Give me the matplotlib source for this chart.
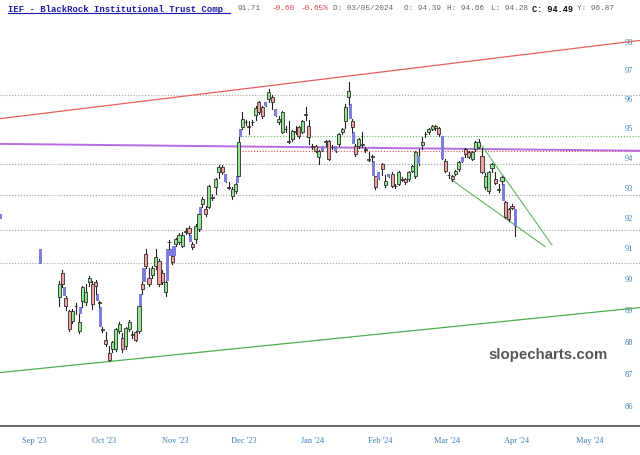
import numpy as np
import pandas as pd
import matplotlib
matplotlib.use("Agg")
import matplotlib.pyplot as plt
from matplotlib.patches import Rectangle
from matplotlib.lines import Line2D
from matplotlib.ticker import NullLocator

# ---------------- data ----------------
holidays = ["2023-09-04", "2023-11-23", "2023-12-25", "2024-01-01", "2024-01-15",
            "2024-02-19", "2024-03-29", "2024-05-27"]
first_day = "2023-09-27"
last_day = "2024-04-15"

open_ = [89.38, 90.15, 89.35, 88.93, 88.62, 89.11, 88.30, 89.25, 89.22, 89.86,
         89.80, 89.86, 89.23, 88.37, 88.04, 87.63, 87.73, 87.73, 88.30, 88.10,
         87.83, 88.36, 88.21, 88.27, 88.30, 89.80, 90.77, 90.02, 90.09, 90.38,
         90.55, 90.18, 89.55, 91.18, 90.73, 91.10, 91.16, 91.03, 91.53, 91.65,
         91.10, 91.26, 91.59, 92.42, 92.25, 92.32, 92.65, 92.98, 93.48, 93.65,
         93.42, 92.99, 92.68, 92.85, 93.35, 95.01, 95.19, 95.05, 95.19, 95.42,
         95.87, 95.70, 95.73, 95.97, 96.04, 95.62, 95.18, 94.84, 94.95, 94.54,
         94.60, 94.88, 95.01, 94.84, 95.46, 95.04, 94.36, 94.36, 93.99, 94.19,
         94.54, 94.53, 94.34, 94.19, 94.43, 94.84, 95.21, 96.04, 95.21, 94.36,
         94.36, 94.44, 94.27, 93.93, 94.03, 93.35, 93.25, 93.75, 93.05, 93.42,
         93.42, 93.03, 93.08, 93.26, 93.25, 93.25, 93.52, 93.35, 94.02, 94.39,
         94.78, 94.84, 94.94, 95.04, 94.98, 94.70, 93.85, 93.40, 93.35, 93.42,
         93.58, 93.82, 94.26, 94.16, 93.92, 94.26, 94.33, 94.02, 92.98, 92.85,
         93.62, 93.25, 92.92, 93.18, 92.48, 92.25, 92.35, 92.25]
high = [89.90, 90.25, 89.42, 88.97, 89.00, 89.20, 88.84, 89.75, 89.80, 90.08,
        89.90, 89.95, 89.28, 88.45, 88.28, 87.85, 88.00, 88.40, 88.60, 88.25,
        88.45, 88.65, 88.32, 88.32, 89.12, 89.86, 90.93, 90.34, 90.40, 90.93,
        90.62, 90.25, 89.90, 91.25, 90.73, 91.32, 91.48, 91.50, 91.62, 91.70,
        91.16, 91.75, 92.09, 92.65, 92.35, 93.05, 92.75, 93.30, 93.72, 93.72,
        93.42, 93.15, 92.98, 93.12, 94.67, 95.52, 95.26, 95.21, 95.26, 95.72,
        95.92, 95.73, 95.87, 96.31, 96.10, 95.62, 95.38, 95.55, 95.05, 95.21,
        94.92, 95.04, 95.05, 95.25, 95.70, 95.24, 94.45, 94.42, 94.22, 94.36,
        94.58, 94.58, 94.40, 94.36, 94.82, 94.98, 95.80, 96.56, 95.28, 94.43,
        94.65, 94.84, 94.35, 94.18, 94.08, 93.35, 93.48, 93.80, 93.40, 93.42,
        93.48, 93.10, 93.52, 93.32, 93.30, 93.52, 93.72, 94.20, 94.28, 94.66,
        94.85, 94.98, 95.10, 95.10, 95.02, 94.70, 93.92, 93.48, 93.38, 93.56,
        93.86, 93.99, 94.30, 94.20, 94.20, 94.55, 94.60, 94.30, 93.45, 93.52,
        93.80, 93.48, 93.08, 93.36, 92.52, 92.30, 92.42, 92.26]
low = [89.10, 89.72, 88.97, 88.30, 88.55, 88.84, 88.25, 89.06, 89.15, 89.75,
       89.00, 89.48, 89.06, 88.28, 87.85, 87.35, 87.65, 87.68, 88.25, 87.65,
       87.75, 88.30, 88.10, 88.00, 88.25, 89.48, 90.34, 89.75, 90.02, 90.30,
       89.75, 89.80, 89.42, 90.96, 90.45, 91.03, 91.10, 91.00, 91.45, 91.42,
       90.95, 91.15, 91.55, 92.32, 92.02, 92.28, 92.55, 92.75, 93.30, 93.42,
       93.15, 92.92, 92.58, 92.80, 93.35, 94.94, 95.08, 94.77, 95.10, 95.26,
       95.46, 95.32, 95.73, 95.87, 95.62, 95.38, 95.11, 94.80, 94.85, 94.48,
       94.55, 94.77, 94.65, 94.80, 95.24, 94.45, 94.28, 94.15, 93.75, 94.19,
       94.36, 93.88, 94.26, 94.15, 94.36, 94.77, 94.98, 95.80, 94.84, 94.02,
       94.30, 94.33, 94.18, 93.85, 93.85, 92.93, 93.25, 93.40, 93.00, 93.32,
       92.98, 92.95, 93.05, 93.18, 93.08, 93.20, 93.48, 93.30, 93.72, 94.28,
       94.66, 94.78, 94.90, 94.92, 94.70, 93.92, 93.48, 93.30, 93.18, 93.38,
       93.52, 93.82, 93.99, 93.95, 93.88, 94.20, 94.30, 93.45, 92.93, 92.80,
       93.48, 93.08, 92.82, 93.08, 91.95, 91.88, 92.25, 91.36]
close = [89.80, 89.80, 89.10, 88.36, 88.93, 89.09, 88.58, 89.70, 89.55, 90.02,
         89.16, 89.74, 89.21, 88.35, 87.89, 87.41, 87.95, 88.36, 88.52, 87.73,
         88.42, 88.58, 88.19, 88.04, 89.10, 89.64, 90.38, 89.80, 90.34, 90.70,
         89.80, 89.86, 89.86, 91.16, 90.51, 91.26, 91.39, 91.42, 91.51, 91.46,
         91.00, 91.69, 92.08, 92.58, 92.08, 93.01, 92.63, 93.25, 93.65, 93.48,
         93.15, 92.97, 92.91, 93.08, 94.50, 95.28, 95.17, 95.03, 95.17, 95.66,
         95.52, 95.38, 95.87, 96.21, 95.87, 95.38, 95.28, 95.52, 94.93, 94.52,
         94.87, 94.86, 94.70, 95.21, 95.44, 94.67, 94.33, 94.19, 94.19, 94.36,
         94.52, 93.92, 94.32, 94.36, 94.77, 94.94, 95.70, 96.24, 95.01, 94.09,
         94.60, 94.42, 94.25, 93.91, 94.01, 92.98, 93.48, 93.58, 93.18, 93.32,
         93.02, 93.01, 93.48, 93.24, 93.15, 93.48, 93.68, 94.16, 93.75, 94.49,
         94.76, 94.94, 95.04, 94.98, 94.77, 93.92, 93.52, 93.38, 93.25, 93.52,
         93.82, 93.99, 94.09, 93.99, 94.16, 94.50, 94.50, 93.48, 93.35, 93.48,
         93.75, 93.12, 92.90, 93.32, 91.98, 91.92, 92.31, 91.71]
blue_days = ["2023-12-07", "2023-12-26", "2023-12-29", "2024-01-22", "2024-01-26",
             "2024-02-14", "2024-02-20", "2024-03-04", "2024-03-13", "2024-03-21",
             "2024-04-15"]

early_gap_after = ["2023-08-31", "2023-09-19"]
early_gap_low = [91.92, 90.45]
early_gap_high = [92.08, 90.96]

gray_levels = [96.11, 93.75, 92.71, 91.58, 90.50]
green_level = 94.72
red_level = 94.19
levels_from = "2023-12-14"

trend_red = [("2023-09-01", 95.31), ("2024-05-01", 97.65)]
trend_green = [("2023-09-01", 87.01), ("2024-05-01", 88.78)]
trend_purple = [("2023-09-01", 94.44), ("2024-05-01", 94.24)]
wedge_upper = [("2024-04-01", 94.37), ("2024-04-30", 91.08)]
wedge_lower = [("2024-03-18", 93.22), ("2024-04-26", 91.02)]

month_labels = ["Sep '23", "Oct '23", "Nov '23", "Dec '23", "Jan '24",
                "Feb '24", "Mar '24", "Apr '24", "May '24"]
months = ["2023-09", "2023-10", "2023-11", "2023-12", "2024-01",
          "2024-02", "2024-03", "2024-04", "2024-05"]
price_ticks = [86, 87, 88, 89, 90, 91, 92, 93, 94, 95, 96, 97, 98]

# ---------------- calendar ----------------
cal = pd.bdate_range("2023-08-28", "2024-05-31")
cal = cal[~cal.isin(pd.to_datetime(holidays))]
pos = {d: i for i, d in enumerate(cal)}


def xpos(d):
    return pos[pd.Timestamp(d)]


dates = cal[(cal >= pd.Timestamp(first_day)) & (cal <= pd.Timestamp(last_day))]
xs = np.array([pos[d] for d in dates], dtype=float)
O = np.array(open_); H = np.array(high); L = np.array(low); C = np.array(close)
blue_set = set(pd.to_datetime(blue_days))

x0 = xpos("2023-09-01")
XL = (x0 - 0.75, x0 + 191.44)

# ---------------- figure ----------------
fig = plt.figure(figsize=(6.4, 4.56), dpi=100)
fig.patch.set_facecolor("white")
ax = fig.add_axes([0, 29 / 456, 1, (427 - 18) / 456])
ax.set_yscale("log")
ax.set_ylim(85.35, 98.84)
ax.set_xlim(*XL)

GREEN = "#8fe68f"
RED = "#f2a0a0"
BLUE = "#7c7ddc"
EDGE = "#2e2e2e"
W = 0.92

# horizontal levels
for lv in gray_levels:
    ax.plot(XL, [lv, lv], color="#a0a0a0", lw=0.8, ls=(0, (1, 1.6)), zorder=1)
xf = xpos(levels_from)
ax.plot([xf, XL[1]], [green_level] * 2, color="#5cb85c", lw=0.8, ls=(0, (1, 1.6)), zorder=1)
ax.plot([xf, XL[1]], [red_level] * 2, color="#e04848", lw=0.8, ls=(0, (1, 1.6)), zorder=1)


def extend(anchors):
    (d1, p1), (d2, p2) = anchors
    k1, k2 = xpos(d1), xpos(d2)
    m = (np.log(p2) - np.log(p1)) / (k2 - k1)
    xx = np.array(XL)
    return xx, np.exp(np.log(p1) + m * (xx - k1))


xx, yy = extend(trend_red)
ax.plot(xx, yy, color="#e8605c", lw=0.9, zorder=2)
xx, yy = extend(trend_green)
ax.plot(xx, yy, color="#4fae4f", lw=0.9, zorder=2)
xx, yy = extend(trend_purple)
ax.plot(xx, yy, color="#b05ce0", lw=1.4, zorder=2, alpha=0.9)
for seg in (wedge_upper, wedge_lower):
    (d1, p1), (d2, p2) = seg
    ax.plot([xpos(d1), xpos(d2)], [p1, p2], color="#5fb55f", lw=0.8, zorder=2)

# early gap boxes
for d, lo, hi in zip(early_gap_after, early_gap_low, early_gap_high):
    k = xpos(d) + 0.5
    ax.add_patch(Rectangle((k - W / 2, lo), W, hi - lo, facecolor=BLUE,
                           edgecolor="none", zorder=3))

# gaps between consecutive candles
for j in range(1, len(xs)):
    k = (xs[j - 1] + xs[j]) / 2
    if L[j - 1] > H[j] + 0.02:
        lo, hi = H[j], L[j - 1]
    elif H[j - 1] < L[j] - 0.02:
        lo, hi = H[j - 1], L[j]
    else:
        continue
    ax.add_patch(Rectangle((k - W / 2, lo), W, hi - lo, facecolor=BLUE,
                           edgecolor="none", zorder=3))

# candles
for d, k, o, h, l, c in zip(dates, xs, O, H, L, C):
    ax.plot([k, k], [l, h], color="#222222", lw=0.8, zorder=4)
    lo, hi = min(o, c), max(o, c)
    hgt = max(hi - lo, 0.012)
    if d in blue_set:
        ax.add_patch(Rectangle((k - W / 2, lo), W, hgt, facecolor=BLUE,
                               edgecolor="none", zorder=5))
    else:
        fc = GREEN if c >= o else RED
        ax.add_patch(Rectangle((k - W / 2, lo), W, hgt, facecolor=fc,
                               edgecolor=EDGE, lw=0.6, zorder=5))

# axes styling
for s in ("top", "left", "right"):
    ax.spines[s].set_visible(False)
ax.spines["bottom"].set_color("#666666")
ax.spines["bottom"].set_linewidth(1.4)

ax.yaxis.tick_right()
ax.yaxis.set_minor_locator(NullLocator())
ax.set_yticks(price_ticks)
ax.set_yticklabels([str(t) for t in price_ticks])
ax.tick_params(axis="y", length=0, pad=-11, labelsize=6, labelcolor="#3f7db8")

month_pos = []
for m in months:
    idx = [i for i, d in enumerate(cal) if d.strftime("%Y-%m") == m]
    month_pos.append(np.mean(idx))
ax.set_xticks(month_pos)
ax.set_xticklabels(month_labels)
ax.xaxis.set_minor_locator(NullLocator())
ax.tick_params(axis="x", length=0, pad=7, labelsize=6, labelcolor="#3f7db8")
for lab in ax.get_xticklabels() + ax.get_yticklabels():
    lab.set_fontfamily("Liberation Serif")

ax.text(0.856, 0.176, "slopecharts.com", transform=ax.transAxes, ha="center",
        va="center", fontsize=10.8, fontweight="bold", color="#555555",
        family="Liberation Sans", zorder=6)

# title line
title_parts = [
    ("IEF - BlackRock Institutional Trust Comp", 7.5, "#1c1ca8", "bold", 6.4),
    ("91.71", 238, "#666666", "normal", 5.6),
    ("-0.60", 272, "#e04040", "normal", 5.6),
    ("-0.65%", 301, "#e04040", "normal", 5.6),
    ("D: 03/05/2024", 333, "#666666", "normal", 5.6),
    ("O: 94.39", 404, "#666666", "normal", 5.6),
    ("H: 94.66", 447, "#666666", "normal", 5.6),
    ("L: 94.28", 491, "#666666", "normal", 5.6),
    ("C: 94.49", 532, "#111111", "bold", 6.2),
    ("Y: 96.87", 577, "#666666", "normal", 5.6),
]
for txt, px, col, wt, fs in title_parts:
    fig.text(px / 640, 1 - 9 / 456, txt, ha="left", va="center", color=col,
             fontweight=wt, fontsize=fs, family="Liberation Mono")
fig.add_artist(Line2D([7.5 / 640, 230 / 640], [1 - 13.5 / 456] * 2,
                      color="#1c1ca8", lw=0.8))

fig.savefig("out.png", dpi=100, facecolor="white")
